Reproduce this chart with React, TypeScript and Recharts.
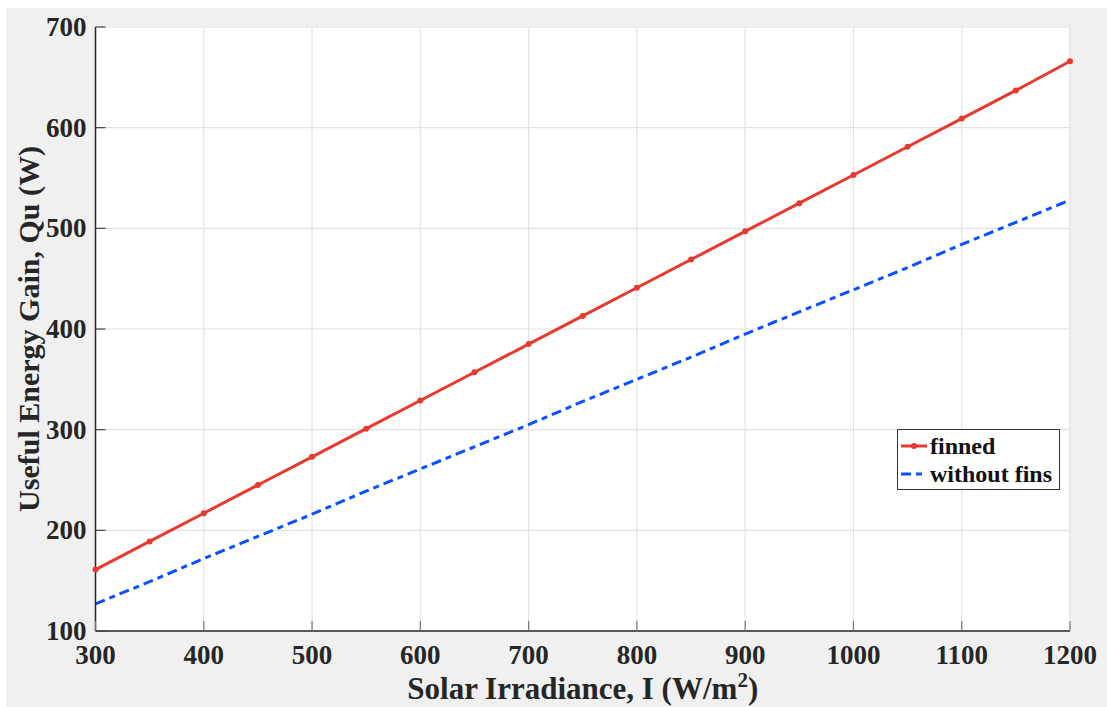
import { LineChart, Line, XAxis, YAxis, CartesianGrid, Legend, Label } from "recharts";

const irradiance = [300, 350, 400, 450, 500, 550, 600, 650, 700, 750, 800, 850, 900, 950, 1000, 1050, 1100, 1150, 1200];
const finned = [161, 189, 217, 245, 273, 301, 329, 357, 385, 413, 441, 469, 497, 525, 553, 581, 609, 637, 666];
const withoutFins = [127, 149, 172, 194, 216, 239, 261, 283, 305, 328, 350, 372, 395, 417, 439, 461, 484, 506, 528];
const xTicks = [300, 400, 500, 600, 700, 800, 900, 1000, 1100, 1200];
const yTicks = [100, 200, 300, 400, 500, 600, 700];

const data = irradiance.map((x, i) => ({ x, finned: finned[i], without: withoutFins[i] }));

const RED = "#e8392f";
const BLUE = "#0a50ff";
const FONT = "'Liberation Serif', 'Times New Roman', serif";
const INK = "#262626";

const YTick = ({ x, y, payload }: any) => (
  <g>
    <line x1={x + 9} x2={x + 19} y1={y} y2={y} stroke="#444" strokeWidth={1.2} />
    <text x={x} y={y} dy={9} textAnchor="end" fontFamily={FONT} fontWeight="bold" fontSize={27} fill={INK}>
      {payload.value}
    </text>
  </g>
);

const XTick = ({ x, y, payload }: any) => (
  <g>
    <line x1={x} x2={x} y1={y - 10} y2={y - 20} stroke="#777" strokeWidth={1.2} />
    <text x={x} y={y} dy={23} textAnchor="middle" fontFamily={FONT} fontWeight="bold" fontSize={27} fill={INK}>
      {payload.value}
    </text>
  </g>
);

const LegendBox = () => (
  <div
    style={{
      width: 161,
      height: 57,
      border: "1px solid #333",
      background: "#fff",
      fontFamily: FONT,
      fontWeight: "bold",
      fontSize: 24,
      color: "#111",
      lineHeight: "28px",
      paddingTop: 2,
      boxSizing: "content-box",
    }}
  >
    <div style={{ display: "flex", alignItems: "center" }}>
      <svg width={32} height={20}>
        <line x1={3} x2={29} y1={10} y2={10} stroke={RED} strokeWidth={3} />
        <circle cx={16} cy={10} r={3} fill={RED} />
      </svg>
      <span>finned</span>
    </div>
    <div style={{ display: "flex", alignItems: "center" }}>
      <svg width={32} height={20}>
        <line x1={3} x2={29} y1={10} y2={10} stroke={BLUE} strokeWidth={3} strokeDasharray="10 5 6 5" />
      </svg>
      <span>without fins</span>
    </div>
  </div>
);

export default function App() {
  return (
    <div style={{ position: "absolute", left: 6, top: 8, width: 1101, height: 699, background: "#f0f0f0" }}>
      <LineChart width={1101} height={699} data={data} margin={{ top: 19, right: 37, bottom: 0, left: 0 }}>
        <CartesianGrid stroke="#e2e2e2" strokeWidth={1.2} fill="#fff" verticalValues={xTicks} horizontalValues={yTicks} />
        <XAxis
          dataKey="x"
          type="number"
          domain={[300, 1200]}
          ticks={xTicks}
          height={76}
          tickSize={0}
          tickMargin={10}
          tickLine={false}
          axisLine={{ stroke: INK, strokeWidth: 1.5 }}
          tick={<XTick />}
        >
          <Label
            content={({ viewBox }: any) => (
              <text
                x={viewBox.x + viewBox.width / 2}
                y={viewBox.y + 68}
                textAnchor="middle"
                fontFamily={FONT}
                fontWeight="bold"
                fontSize={31}
                fill={INK}
              >
                Solar Irradiance, I (W/m
                <tspan dy={-12} fontSize={21}>2</tspan>
                <tspan dy={12}>)</tspan>
              </text>
            )}
          />
        </XAxis>
        <YAxis
          type="number"
          domain={[100, 700]}
          ticks={yTicks}
          width={89.5}
          tickSize={0}
          tickMargin={9}
          tickLine={false}
          axisLine={{ stroke: INK, strokeWidth: 1.5 }}
          tick={<YTick />}
        >
          <Label
            content={({ viewBox }: any) => {
              const cx = 22;
              const cy = viewBox.y + viewBox.height / 2;
              return (
                <text
                  x={cx}
                  y={cy}
                  transform={`rotate(-90 ${cx} ${cy})`}
                  textAnchor="middle"
                  dominantBaseline="central"
                  fontFamily={FONT}
                  fontWeight="bold"
                  fontSize={30}
                  fill={INK}
                >
                  Useful Energy Gain, Qu (W)
                </text>
              );
            }}
          />
        </YAxis>
        <Legend
          layout="horizontal"
          verticalAlign="middle"
          align="center"
          content={<LegendBox />}
          wrapperStyle={{ position: "absolute", left: 891, top: 421, width: 163, height: 61 }}
        />
        <Line
          dataKey="finned"
          stroke={RED}
          strokeWidth={3}
          dot={{ r: 3, fill: RED, stroke: "none" }}
          isAnimationActive={false}
        />
        <Line
          dataKey="without"
          stroke={BLUE}
          strokeWidth={3}
          strokeDasharray="10 5 6 5"
          dot={false}
          isAnimationActive={false}
        />
      </LineChart>
    </div>
  );
}
